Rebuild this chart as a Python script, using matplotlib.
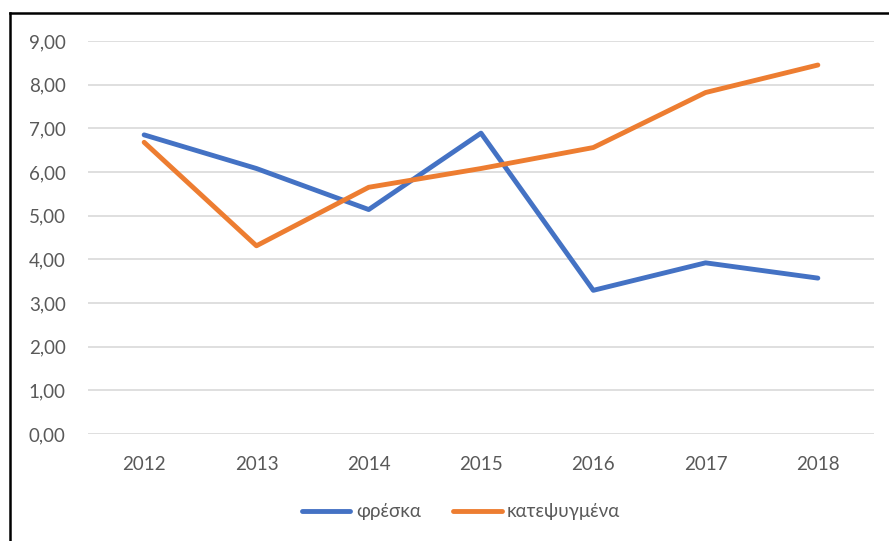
import matplotlib.pyplot as plt
from matplotlib.lines import Line2D
from matplotlib.ticker import FuncFormatter

years = ['2012', '2013', '2014', '2015', '2016', '2017', '2018']
fresh = [6.85, 6.08, 5.14, 6.89, 3.29, 3.92, 3.57]
frozen = [6.68, 4.31, 5.65, 6.08, 6.56, 7.82, 8.45]

plt.rcParams['font.family'] = ['Lato', 'DejaVu Sans']

fig = plt.figure(figsize=(8.89, 5.41), dpi=100)
ax = fig.add_axes([88 / 889, 107 / 541, 786 / 889, 393 / 541])

x = range(len(years))
ax.plot(x, fresh, color='#4472C4', lw=3.5, solid_capstyle='round', label='φρέσκα')
ax.plot(x, frozen, color='#ED7D31', lw=3.5, solid_capstyle='round', label='κατεψυγμένα')

ax.set_xlim(-0.5, len(years) - 0.5)
ax.set_ylim(0, 9)
ax.set_yticks(range(10))
ax.yaxis.set_major_formatter(FuncFormatter(lambda v, p: f'{v:.2f}'.replace('.', ',')))
ax.set_xticks(list(x))
ax.set_xticklabels(years)
ax.grid(axis='y', color='#D9D9D9', lw=1.2)
ax.set_axisbelow(True)
for s in ax.spines.values():
    s.set_visible(False)
ax.tick_params(axis='both', length=0, labelsize=13.5, labelcolor='#595959')
ax.tick_params(axis='y', pad=16)
ax.tick_params(axis='x', pad=16)

fig.legend(loc='center', bbox_to_anchor=(461 / 889, 1 - 512 / 541), ncol=2,
           frameon=False, fontsize=13.5, labelcolor='#595959',
           handlelength=2.6, handletextpad=0.3, columnspacing=1.7)

# frame edges of the chart box
fig.add_artist(Line2D([10 / 889, 1], [1 - 13 / 541, 1 - 13 / 541], color='black', lw=1.8))
fig.add_artist(Line2D([10 / 889, 10 / 889], [0, 1 - 13 / 541], color='black', lw=1.8))

fig.savefig('out.png', dpi=100)
